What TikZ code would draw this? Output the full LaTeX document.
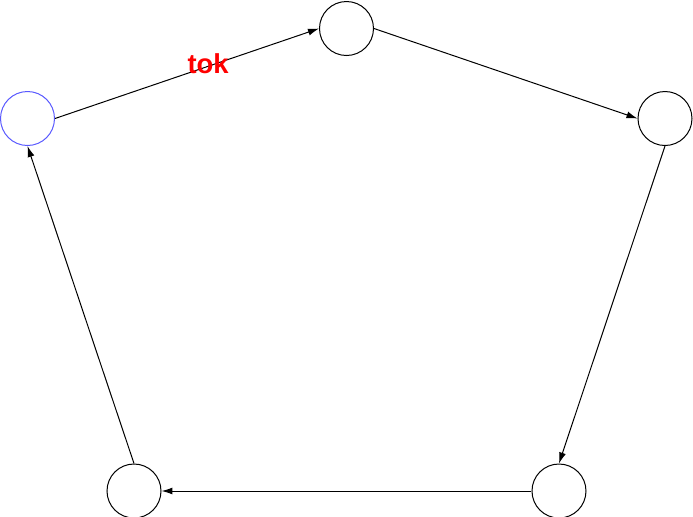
\documentclass[tikz,border=0pt]{standalone}
\usepackage{fontspec}
\setsansfont{Liberation Sans}
\usetikzlibrary{arrows.meta}

\begin{document}
\begin{tikzpicture}[x=0.5pt,y=-0.5pt,->,>={Latex[length=5.5pt,width=3.5pt]},line width=0.5pt]
  \tikzstyle{vertex}=[circle,draw,minimum size=27pt,inner sep=0pt]
  \useasboundingbox (0,0) rectangle (693,516);
  \node[vertex,draw=blue!65] (V_1) at (27.5,118.5) {};
  \node[vertex] (V_2) at (346.5,28.5) {};
  \node[vertex] (V_3) at (665,118.5) {};
  \node[vertex] (V_4) at (559,491) {};
  \node[vertex] (V_5) at (134,491) {};
  \draw (V_1.east) -- node[pos=0.58,yshift=1.5pt,text=red,font=\sffamily\bfseries\fontsize{13.7}{16}\selectfont] (lab) {tok} (V_2.west);
  \draw (V_2.east) -- (V_3.west);
  \draw (V_3.south) -- (V_4.north);
  \draw (V_4.west) -- (V_5.east);
  \draw (V_5.north) -- (V_1.south);
\end{tikzpicture}
\end{document}
